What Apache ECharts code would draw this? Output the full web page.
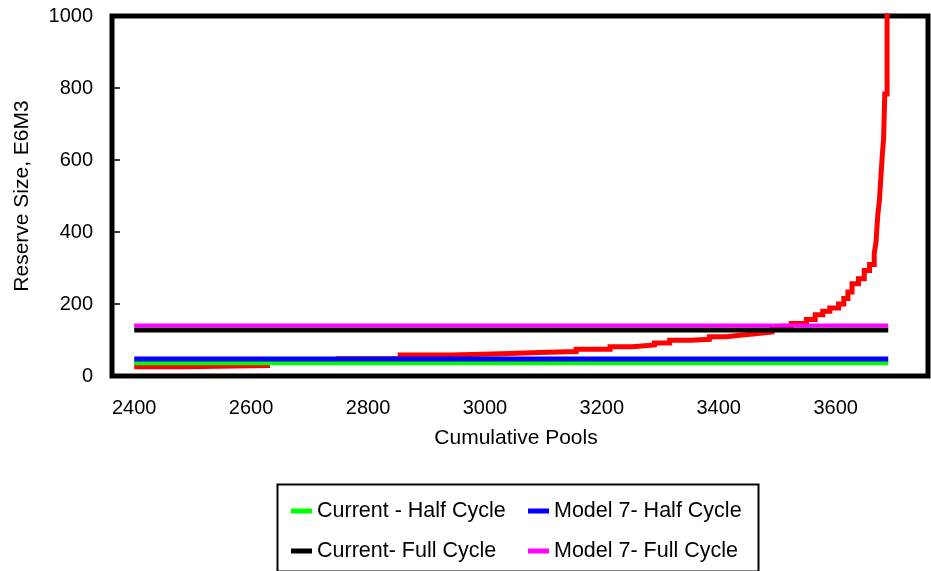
<!DOCTYPE html>
<html>
<head>
<meta charset="utf-8">
<title>Reserve Size vs Cumulative Pools</title>
<script src="https://cdn.jsdelivr.net/npm/echarts@6/dist/echarts.min.js"></script>
<style>
    html, body { margin: 0; padding: 0; background: #fff; }
    #chart { width: 931px; height: 571px; }
</style>
</head>
<body>
<div id="chart"></div>
<script>
// x axis labels
var xTicks = [2400, 2600, 2800, 3000, 3200, 3400, 3600];

// red step curve: pool count where each level starts, and the reserve size
var poolsX = [2400, 2487, 2628, 2750, 2855, 2943, 3028, 3093, 3156, 3214, 3252, 3290, 3316, 3353, 3384, 3413, 3436, 3463, 3491, 3510, 3524, 3550, 3565, 3578, 3590, 3605, 3614, 3621, 3628, 3639, 3649, 3658, 3666, 3669, 3672, 3675, 3678, 3680, 3682, 3684, 3688, 3690];
var reserveY = [26, 29, 38, 48, 58, 62, 65, 68, 74, 81, 86, 92, 99, 102, 109, 113, 117, 122, 130, 138, 146, 157, 170, 180, 189, 200, 215, 233, 256, 270, 293, 310, 340, 371, 445, 490, 568, 618, 657, 783, 1000, 1100];

// flat reference levels, drawn from first to last pool
var lineStart = 2400;
var lineEnd = 3690;
var levelNames = ['Current - Half Cycle', 'Model 7- Half Cycle', 'Current- Full Cycle', 'Model 7- Full Cycle'];
var levelValues = [37, 47, 128, 140];
var levelColors = ['#00ff00', '#0000ff', '#000000', '#ff00ff'];
var levelWidths = [5, 5, 5, 4];

var font = 'Liberation Sans, Arial, sans-serif';

var chart = echarts.init(document.getElementById('chart'));

var curve = [];
for (var i = 0; i < poolsX.length; i++) {
    curve.push([poolsX[i], reserveY[i]]);
}

var series = [{
    name: 'Reserve Size',
    type: 'line',
    step: 'end',
    data: curve,
    showSymbol: false,
    lineStyle: { color: '#ff0000', width: 5, cap: 'butt', join: 'miter' },
    itemStyle: { color: '#ff0000' },
    z: 1
}];
for (var k = 0; k < levelNames.length; k++) {
    series.push({
        name: levelNames[k],
        type: 'line',
        data: [[lineStart, levelValues[k]], [lineEnd, levelValues[k]]],
        showSymbol: false,
        lineStyle: { color: levelColors[k], width: levelWidths[k], cap: 'butt' },
        itemStyle: { color: levelColors[k] },
        z: 2 + k
    });
}

var legendText = { color: '#000', fontSize: 21.5, fontFamily: font, lineHeight: 22 };

function plain(v) {
    return String(v);
}

var option = {
    animation: false,
    backgroundColor: '#fff',
    grid: {
        left: 112,
        top: 16,
        right: 3,
        bottom: 195,
        show: true,
        borderColor: '#000',
        borderWidth: 5
    },
    xAxis: {
        type: 'value',
        min: 2362,
        max: 3758,
        name: 'Cumulative Pools',
        nameLocation: 'middle',
        nameGap: 52,
        nameTextStyle: { color: '#000', fontSize: 21, fontFamily: font, padding: [0, 8, 0, 0] },
        axisLine: { show: false },
        axisTick: { show: false },
        splitLine: { show: false },
        axisLabel: {
            customValues: xTicks,
            formatter: plain,
            color: '#000',
            fontSize: 20,
            fontFamily: font,
            margin: 22
        }
    },
    yAxis: {
        type: 'value',
        min: 0,
        max: 1000,
        interval: 200,
        name: 'Reserve Size, E6M3',
        nameLocation: 'middle',
        nameGap: 79,
        nameTextStyle: { color: '#000', fontSize: 21, fontFamily: font },
        axisLine: { show: false },
        axisTick: {
            show: true,
            inside: true,
            length: 8,
            lineStyle: { color: '#000', width: 1.5 }
        },
        splitLine: { show: false },
        axisLabel: {
            formatter: plain,
            color: '#000',
            fontSize: 20,
            fontFamily: font,
            margin: 19
        }
    },
    // two legend columns inside one framed box
    legend: [{
        data: [levelNames[0], levelNames[2]],
        orient: 'vertical',
        left: 291,
        top: 500,
        padding: 0,
        icon: 'rect',
        itemWidth: 21,
        itemHeight: 5,
        itemGap: 18,
        textStyle: legendText
    }, {
        data: [levelNames[1], levelNames[3]],
        orient: 'vertical',
        left: 528,
        top: 500,
        padding: 0,
        icon: 'rect',
        itemWidth: 21,
        itemHeight: 5,
        itemGap: 18,
        textStyle: legendText
    }],
    graphic: [{
        type: 'rect',
        left: 275,
        top: 482,
        shape: { width: 481, height: 87 },
        style: { fill: 'none', stroke: '#000', lineWidth: 2 }
    }],
    series: series
};

chart.setOption(option);
</script>
</body>
</html>
